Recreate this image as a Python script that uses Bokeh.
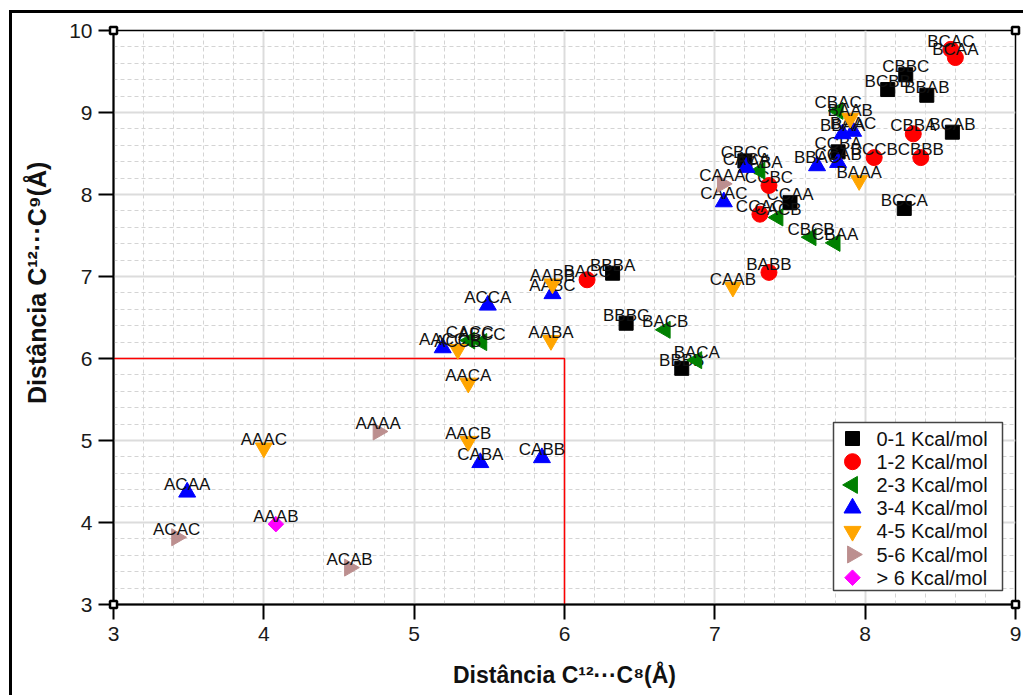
import math
from bokeh.plotting import figure
from bokeh.models import SingleIntervalTicker
from bokeh.core.properties import value
from bokeh.embed import file_html
from bokeh.resources import INLINE

# ---------------- data ----------------
x_min, x_max = 3, 9
y_min, y_max = 3, 10
limit_x, limit_y = 6, 6

cat_labels = ["0-1 Kcal/mol", "1-2 Kcal/mol", "2-3 Kcal/mol", "3-4 Kcal/mol",
              "4-5 Kcal/mol", "5-6 Kcal/mol", "> 6 Kcal/mol"]

names0 = ["CBBC", "BCBB", "BBAB", "BCAB", "BCCA", "CCBA", "CBCC", "CCAA", "BBBA", "BBBC", "BBBB"]
x0 = [8.27, 8.15, 8.41, 8.58, 8.26, 7.82, 7.20, 7.50, 6.32, 6.41, 6.78]
y0 = [9.46, 9.28, 9.21, 8.76, 7.83, 8.52, 8.41, 7.90, 7.04, 6.43, 5.88]

names1 = ["BCAC", "BCAA", "CBBA", "BCCB", "CBBB", "CCBC", "CCAC", "BABB", "BACC"]
x1 = [8.57, 8.60, 8.32, 8.06, 8.37, 7.36, 7.30, 7.36, 6.15]
y1 = [9.77, 9.67, 8.74, 8.45, 8.45, 8.11, 7.76, 7.05, 6.96]

names2 = ["CBAC", "BABA", "CACB", "CBCB", "CBAA", "BACB", "BACA", "CACC", "ABCC"]
x2 = [7.82, 7.30, 7.42, 7.64, 7.80, 6.67, 6.88, 5.37, 5.45]
y2 = [9.02, 8.29, 7.72, 7.48, 7.41, 6.35, 5.98, 6.22, 6.20]

names3 = ["BBAA", "BAAC", "CCAB", "BBAC", "CACA", "CAAC", "AABC", "ACCA", "AACC", "CABB", "CABA", "ACAA"]
x3 = [7.85, 7.92, 7.82, 7.68, 7.21, 7.06, 5.92, 5.49, 5.19, 5.85, 5.44, 3.49]
y3 = [8.74, 8.77, 8.39, 8.35, 8.33, 7.91, 6.79, 6.65, 6.13, 4.79, 4.73, 4.37]

names4 = ["BAAB", "BAAA", "CAAB", "AABB", "AABA", "ACCB", "AACA", "AACB", "AAAC"]
x4 = [7.90, 7.96, 7.12, 5.92, 5.91, 5.29, 5.36, 5.36, 4.00]
y4 = [8.93, 8.17, 6.87, 6.91, 6.22, 6.11, 5.70, 4.99, 4.91]

names5 = ["CAAA", "AAAA", "ACAC", "ACAB"]
x5 = [7.05, 4.76, 3.42, 4.57]
y5 = [8.13, 5.11, 3.82, 3.45]

names6 = ["AAAB"]
x6 = [4.08]
y6 = [3.98]

# ---------------- styles ----------------
styles = [
    dict(marker="square", angle=0.0, color="#000000", size=14),
    dict(marker="circle", angle=0.0, color="#ff0000", size=16),
    dict(marker="triangle", angle=math.pi / 2, color="#008000", size=17),
    dict(marker="triangle", angle=0.0, color="#0000ff", size=17),
    dict(marker="inverted_triangle", angle=0.0, color="#ffa500", size=17),
    dict(marker="triangle", angle=-math.pi / 2, color="#bc8f8f", size=17),
    dict(marker="square", angle=math.pi / 4, color="#ff00ff", size=11),
]
series = [(names0, x0, y0), (names1, x1, y1), (names2, x2, y2), (names3, x3, y3),
          (names4, x4, y4), (names5, x5, y5), (names6, x6, y6)]

FONT = "Liberation Sans"
W, H = 1023, 695
FL, FT, FR, FB = 113, 30, 1015, 604   # frame edges in pixels

p = figure(width=W, height=H, output_backend="svg", toolbar_location=None,
           x_range=(x_min, x_max), y_range=(y_min, y_max),
           min_border_left=FL, min_border_right=W - FR, min_border_top=FT, min_border_bottom=H - FB,
           background_fill_color="white", border_fill_alpha=0)

# outer page frame (left and top black rules, as in the source figure)
p.styles = {
    "background": "linear-gradient(#000,#000) 9px 10px / 3px 100% no-repeat, "
                  "linear-gradient(#000,#000) 9px 10px / 100% 3px no-repeat, #ffffff"
}

xt = SingleIntervalTicker(interval=1, num_minor_ticks=5)
yt = SingleIntervalTicker(interval=1, num_minor_ticks=5)
p.xaxis.ticker = xt
p.yaxis.ticker = yt
p.xgrid.ticker = xt
p.ygrid.ticker = yt

for g in (p.xgrid, p.ygrid):
    g.grid_line_color = "#dcdcdc"
    g.grid_line_width = 2
    g.minor_grid_line_color = "#d4d4d4"
    g.minor_grid_line_width = 1
    g.minor_grid_line_dash = "4 3"

for ax in (p.xaxis, p.yaxis):
    ax.axis_line_color = "black"
    ax.axis_line_width = 2
    ax.major_tick_out = 15
    ax.major_tick_in = 0
    ax.minor_tick_out = 0
    ax.minor_tick_in = 0
    ax.major_tick_line_width = 2
    ax.major_tick_line_color = "black"
    ax.major_label_text_font = FONT
    ax.major_label_text_font_size = "21px"
    ax.major_label_text_color = "#1a1a1a"
    ax.axis_label_text_font = FONT
    ax.axis_label_text_font_style = "bold"
    ax.axis_label_text_color = "#111111"

p.xaxis.axis_label_text_font_size = "23px"
p.yaxis.axis_label_text_font_size = "25px"
p.xaxis.major_label_standoff = 7
p.yaxis.major_label_standoff = 6
p.xaxis.axis_label = "Distância C¹²···C⁸(Å)"
# leading no-break spaces lift the rotated title slightly above the frame centre, as in the source
p.yaxis.axis_label = "\u00a0" * 10 + "Distância C¹²···C⁹(Å)"
p.xaxis.axis_label_standoff = 18
p.yaxis.axis_label_standoff = 15

p.outline_line_color = "black"
p.outline_line_width = 1.5
p.outline_line_alpha = 1.0

# red limit lines
p.line(x=[x_min, limit_x, limit_x], y=[limit_y, limit_y, y_min], line_color="#ff0000", line_width=1.5)

for (nm, xs, ys), st in zip(series, styles):
    p.scatter(x=xs, y=ys, marker=st["marker"], angle=st["angle"], size=st["size"],
              fill_color=st["color"], line_color=st["color"], line_width=1)
    p.text(x=xs, y=ys, text=nm, text_align="center", text_baseline="alphabetic",
           y_offset=-8, text_font=value(FONT), text_font_size="17px", text_color="#111111")

# small end-caps on the frame corners
p.scatter(x=[x_min, x_max, x_min, x_max], y=[y_max, y_max, y_min, y_min], marker="square",
          size=7, fill_color="white", line_color="black", line_width=2.5, level="overlay")

# ---------------- legend (drawn by hand so markers keep size and orientation) ----------------
def px_x(px):
    return x_min + (px - FL) * (x_max - x_min) / (FR - FL)

def px_y(py):
    return y_max - (py - FT) * (y_max - y_min) / (FB - FT)

box_l, box_r, box_t, box_b = 833, 1002, 422, 590
row0, row_step = 438, 23.2
mark_px, text_px = 852, 876

p.quad(left=[px_x(box_l)], right=[px_x(box_r)], top=[px_y(box_t)], bottom=[px_y(box_b)],
       fill_color="white", line_color="#444444", line_width=1.5, level="annotation")
for i, (lab, st) in enumerate(zip(cat_labels, styles)):
    yy = px_y(row0 + i * row_step)
    p.scatter(x=[px_x(mark_px)], y=[yy], marker=st["marker"], angle=st["angle"],
              size=st["size"], fill_color=st["color"], line_color=st["color"], level="overlay")
    p.text(x=[px_x(text_px)], y=[yy], text=[lab], text_align="left", text_baseline="middle",
           text_font=value(FONT), text_font_size="20px", text_color="#111111", level="overlay")

open("out.html", "w").write(file_html(p, INLINE))
